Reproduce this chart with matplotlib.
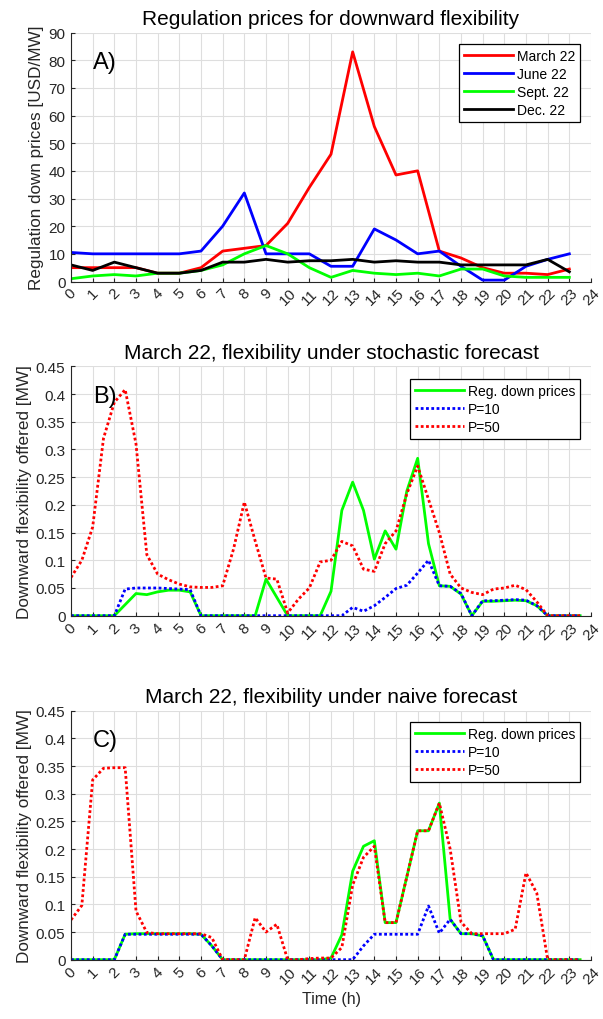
import matplotlib.pyplot as plt
import numpy as np

plt.rcParams["font.family"] = ["Liberation Sans", "DejaVu Sans"]

# hourly regulation-down prices [USD/MW]
hours = np.arange(24)
price_mar = [5, 5, 5, 5, 3, 3, 5, 11, 12, 13, 21, 34,
             46, 83, 56, 38.5, 40, 11, 8.5, 5, 3, 3, 2.5, 4.5]
price_jun = [10.5, 10, 10, 10, 10, 10, 11, 20, 32, 10, 10, 10,
             5.5, 5.5, 19, 15, 10, 11, 5.5, 0.5, 0.5, 5.5, 8, 10]
price_sep = [1, 2, 2.5, 2, 3, 3, 4, 6, 10, 13, 10, 5,
             1.5, 4, 3, 2.5, 3, 2, 4.5, 4.5, 2, 1.5, 1.5, 1.5]
price_dec = [6, 4, 7, 5, 3, 3, 4, 7, 7, 8, 7, 7.5,
             7.5, 8, 7, 7.5, 7, 7, 6, 6, 6, 6, 8, 3.5]

# half-hourly flexibility offered [MW], March 22
t = np.arange(48) * 0.5
stoch_price = [0, 0, 0, 0, 0, 0.020, 0.040, 0.038,
               0.043, 0.046, 0.046, 0.043, 0, 0, 0, 0,
               0, 0, 0.066, 0.033, 0, 0, 0, 0,
               0.044, 0.190, 0.241, 0.190, 0.102, 0.153, 0.120, 0.225,
               0.284, 0.130, 0.054, 0.053, 0.039, 0, 0.026, 0.026,
               0.027, 0.028, 0.027, 0.018, 0, 0, 0, 0]
stoch_p10 = [0, 0, 0, 0, 0, 0.048, 0.050, 0.050,
             0.050, 0.049, 0.048, 0.047, 0, 0, 0, 0,
             0, 0, 0, 0, 0, 0, 0, 0,
             0, 0, 0.015, 0.008, 0.018, 0.033, 0.049, 0.055,
             0.077, 0.100, 0.054, 0.053, 0.040, 0, 0.027, 0.027,
             0.028, 0.029, 0.028, 0.018, 0, 0, 0, 0]
stoch_p50 = [0.069, 0.100, 0.160, 0.320, 0.385, 0.408, 0.310, 0.110,
             0.075, 0.065, 0.057, 0.052, 0.051, 0.051, 0.054, 0.120,
             0.205, 0.135, 0.068, 0.066, 0.005, 0.030, 0.050, 0.097,
             0.100, 0.134, 0.126, 0.084, 0.080, 0.130, 0.153, 0.220,
             0.270, 0.210, 0.150, 0.075, 0.050, 0.042, 0.038, 0.048,
             0.050, 0.055, 0.047, 0.025, 0, 0, 0, 0]

naive_price = [0, 0, 0, 0, 0, 0.046, 0.047, 0.047,
               0.047, 0.047, 0.047, 0.047, 0.046, 0.025, 0, 0,
               0, 0, 0, 0, 0, 0, 0, 0,
               0.003, 0.045, 0.160, 0.205, 0.215, 0.067, 0.067, 0.150,
               0.233, 0.233, 0.283, 0.073, 0.047, 0.047, 0.043, 0,
               0, 0, 0, 0, 0, 0, 0, 0]
naive_p10 = [0, 0, 0, 0, 0, 0.046, 0.046, 0.046,
             0.046, 0.046, 0.046, 0.046, 0.046, 0.025, 0, 0,
             0, 0, 0, 0, 0, 0, 0, 0,
             0, 0, 0, 0.025, 0.046, 0.046, 0.046, 0.046,
             0.046, 0.097, 0.048, 0.073, 0.047, 0.047, 0.043, 0,
             0, 0, 0, 0, 0, 0, 0, 0]
naive_p50 = [0.072, 0.098, 0.325, 0.346, 0.347, 0.347, 0.088, 0.049,
             0.047, 0.047, 0.047, 0.047, 0.047, 0.040, 0, 0,
             0, 0.076, 0.050, 0.064, 0, 0, 0.002, 0.003,
             0.003, 0.022, 0.135, 0.185, 0.205, 0.067, 0.067, 0.150,
             0.233, 0.233, 0.283, 0.200, 0.068, 0.047, 0.047, 0.047,
             0.047, 0.055, 0.157, 0.120, 0, 0, 0, 0]

W, H = 603, 1020
fig = plt.figure(figsize=(W / 100, H / 100), dpi=100)

axis_col = "#262626"
dots = (0, (1, 0.9))


def make_axes(top, bottom):
    ax = fig.add_axes([71 / W, 1 - bottom / H, 520 / W, (bottom - top) / H])
    ax.set_xlim(0, 24)
    ax.set_xticks(range(25))
    ax.set_xticklabels([str(i) for i in range(25)], rotation=45,
                       ha="center", va="top")
    ax.grid(True, color="#dedede", linewidth=0.8)
    ax.set_axisbelow(True)
    for side in ("top", "right"):
        ax.spines[side].set_visible(False)
    for side in ("left", "bottom"):
        ax.spines[side].set_color(axis_col)
        ax.spines[side].set_linewidth(0.8)
    ax.tick_params(direction="in", length=3, labelsize=11, colors=axis_col,
                   width=0.8)
    ax.tick_params(axis="y", pad=4)
    ax.tick_params(axis="x", pad=3)
    return ax


def legend(ax, bbox):
    leg = ax.legend(loc="upper right", bbox_to_anchor=bbox, borderaxespad=0,
                    fontsize=10, handlelength=3.5, handletextpad=0.3,
                    labelspacing=0.3, borderpad=0.35, fancybox=False,
                    framealpha=1, edgecolor="black")
    leg.get_frame().set_linewidth(0.9)
    return leg


# A) prices
ax = make_axes(33.5, 282.5)
ax.plot(hours, price_mar, color="#ff0000", lw=2, label="March 22")
ax.plot(hours, price_jun, color="#0000ff", lw=2, label="June 22")
ax.plot(hours, price_sep, color="#00ff00", lw=2, label="Sept. 22")
ax.plot(hours, price_dec, color="black", lw=2, label="Dec. 22")
ax.set_ylim(0, 90)
ax.set_yticks(range(0, 91, 10))
ax.set_ylabel("Regulation down prices [USD/MW]", fontsize=12.3,
              color=axis_col, labelpad=3)
ax.set_title("Regulation prices for downward flexibility", fontsize=15,
             color="black", pad=6)
ax.text(1, 79.5, "A)", fontsize=17, va="center", ha="left")
legend(ax, (0.979, 0.954))

flex_ticks = [0, 0.05, 0.1, 0.15, 0.2, 0.25, 0.3, 0.35, 0.4, 0.45]
flex_labels = ["0", "0.05", "0.1", "0.15", "0.2", "0.25", "0.3", "0.35",
               "0.4", "0.45"]

panels = [
    (367.3, 616.7, "March 22, flexibility under stochastic forecast", "B)",
     stoch_price, stoch_p10, stoch_p50, 0.949),
    (711.7, 960.7, "March 22, flexibility under naive forecast", "C)",
     naive_price, naive_p10, naive_p50, 0.955),
]
for top, bottom, title, tag, price, p10, p50, leg_top in panels:
    ax = make_axes(top, bottom)
    ax.plot(t, price, color="#00ff00", lw=2, label="Reg. down prices")
    ax.plot(t, p10, color="#0000ff", lw=2, linestyle=dots, label="P=10")
    ax.plot(t, p50, color="#ff0000", lw=2, linestyle=dots, label="P=50")
    ax.set_ylim(0, 0.45)
    ax.set_yticks(flex_ticks)
    ax.set_yticklabels(flex_labels)
    ax.set_ylabel("Downward flexibility offered [MW]", fontsize=12.3,
                  color=axis_col, labelpad=3)
    ax.set_title(title, fontsize=15, color="black", pad=6)
    ax.text(1, 0.397, tag, fontsize=17, va="center", ha="left")
    legend(ax, (0.979, leg_top))

ax.set_xlabel("Time (h)", fontsize=11.5, color=axis_col, labelpad=4)

fig.savefig("out.png", dpi=100, facecolor="white")
